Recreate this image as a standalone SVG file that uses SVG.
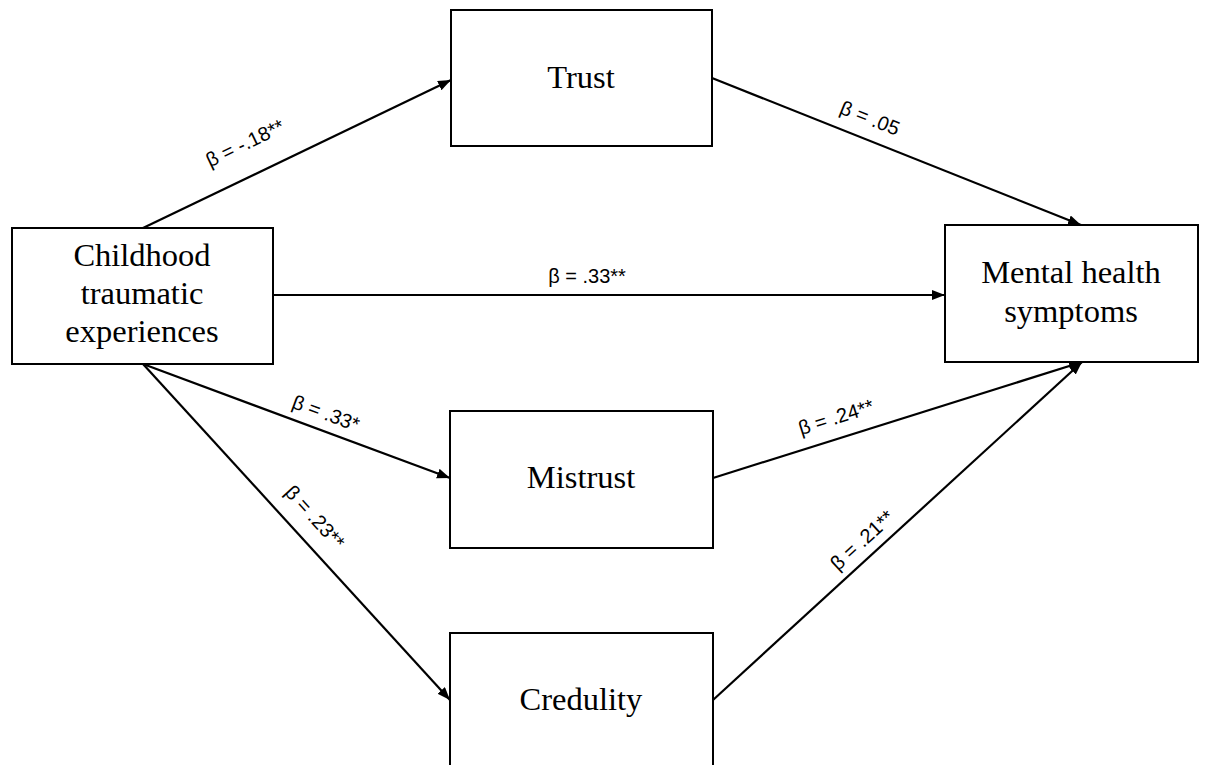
<svg xmlns="http://www.w3.org/2000/svg" width="1218" height="765" viewBox="0 0 1218 765">
<style>
.box{fill:#fff;stroke:#000;stroke-width:2}
.nt{font-family:"Liberation Serif","Times New Roman",serif;font-size:32.5px;fill:#000;text-anchor:middle}
.edge{stroke:#000;stroke-width:2.2;fill:none;marker-end:url(#ah)}
.lb{font-family:"Liberation Sans",Arial,sans-serif;font-size:20px;fill:#000;text-anchor:middle}
</style>
<defs>
<marker id="ah" markerUnits="userSpaceOnUse" markerWidth="14" markerHeight="12" refX="13" refY="5" orient="auto">
<path d="M0,0 L13,5 L0,10 Z" fill="#000"/>
</marker>
</defs>
<rect width="1218" height="765" fill="#fff"/>
<g id="connectors">
<line class="edge" x1="143" y1="228" x2="451" y2="80"/>
<line class="edge" x1="712" y1="78" x2="1081" y2="225"/>
<line class="edge" x1="273" y1="295" x2="945" y2="295"/>
<line class="edge" x1="143" y1="364" x2="450" y2="478"/>
<line class="edge" x1="143" y1="364" x2="450" y2="700"/>
<line class="edge" x1="713" y1="478" x2="1082" y2="362"/>
<line class="edge" x1="713" y1="700" x2="1082" y2="362"/>
</g>
<g id="labels">
<text class="lb" transform="translate(245,143) rotate(-25.7)" y="7">β = -.18**</text>
<text class="lb" transform="translate(870,118) rotate(21.7)" y="7">β = .05</text>
<text class="lb" x="587" y="283">β = .33**</text>
<text class="lb" transform="translate(326,413) rotate(20.4)" y="7">β = .33*</text>
<text class="lb" transform="translate(315,517) rotate(47.6)" y="7">β = .23**</text>
<text class="lb" transform="translate(836,417) rotate(-17.5)" y="7">β = .24**</text>
<text class="lb" transform="translate(862,540) rotate(-42.5)" y="7">β = .21**</text>
</g>
<g id="childhood">
<rect class="box" x="12" y="228" width="261" height="136"/>
<text class="nt" x="142" y="266">Childhood</text>
<text class="nt" x="142" y="304">traumatic</text>
<text class="nt" x="142" y="342">experiences</text>
</g>
<g id="trust">
<rect class="box" x="451" y="10" width="261" height="136"/>
<text class="nt" x="581" y="88">Trust</text>
</g>
<g id="mental">
<rect class="box" x="945" y="225" width="253" height="137"/>
<text class="nt" x="1071" y="283">Mental health</text>
<text class="nt" x="1071" y="322">symptoms</text>
</g>
<g id="mistrust">
<rect class="box" x="450" y="411" width="263" height="137"/>
<text class="nt" x="581" y="488">Mistrust</text>
</g>
<g id="credulity">
<rect class="box" x="450" y="633" width="263" height="140"/>
<text class="nt" x="581" y="710">Credulity</text>
</g>
</svg>
